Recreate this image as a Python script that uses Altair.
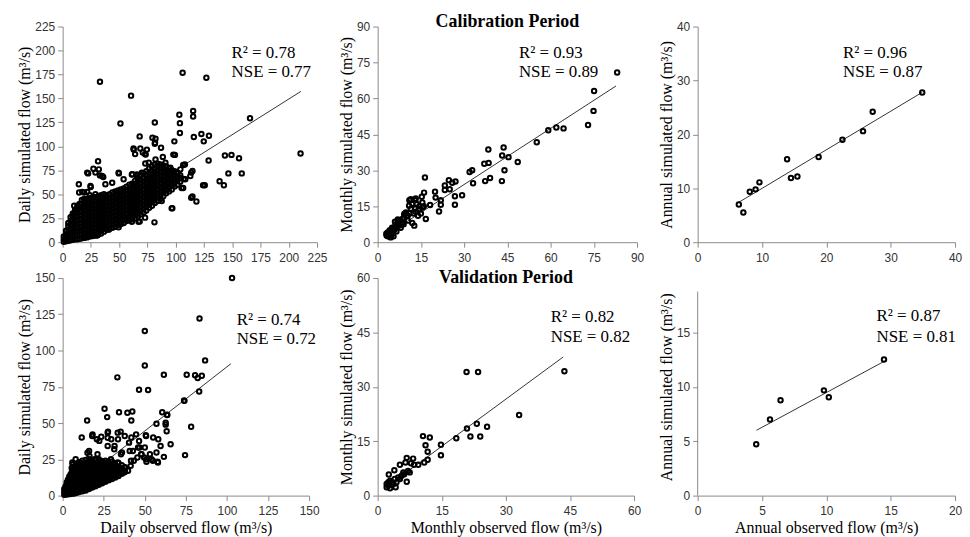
import altair as alt
import pandas as pd

# ---------------- data ----------------
# Daily calibration: dense core (observed x, list of simulated y) + scattered points
dc_core = [
    (1.0, [0.5, 3, 6]),
    (3.0, [1, 4, 8, 12]),
    (5.0, [1.5, 5, 9, 13, 17, 20]),
    (7.0, [2, 6, 10, 14, 18, 22, 26]),
    (9.0, [2.5, 7, 11, 15, 19, 23, 27, 30]),
    (11.0, [3, 7, 11, 15, 19, 23, 27, 31, 34]),
    (13.0, [3, 7, 11, 15, 19, 23, 27, 31, 35, 38]),
    (15.0, [3.5, 8, 12, 16, 20, 24, 28, 32, 36, 40]),
    (17.0, [4, 8, 12, 16, 20, 24, 28, 32, 36, 40, 44]),
    (19.0, [4.5, 9, 13, 17, 21, 25, 29, 33, 37, 41, 45]),
    (21.5, [5, 9, 13, 17, 21, 25, 29, 33, 37, 41, 45]),
    (24.0, [6, 10, 14, 18, 22, 26, 30, 34, 38, 42, 46, 49]),
    (26.5, [6.5, 11, 15, 19, 23, 27, 31, 35, 39, 43, 47]),
    (29.0, [7, 11, 15, 19, 23, 27, 31, 35, 39, 43, 47, 50]),
    (31.5, [8, 12, 16, 20, 24, 28, 32, 36, 40, 44, 48]),
    (34.0, [9, 13, 17, 21, 25, 29, 33, 37, 41, 45, 49]),
    (36.5, [11, 15, 19, 23, 27, 31, 35, 39, 43, 47, 50]),
    (39.0, [13, 17, 21, 25, 29, 33, 37, 41, 45, 49]),
    (41.5, [14, 18, 22, 26, 30, 34, 38, 42, 46, 50]),
    (44.0, [15, 19, 23, 27, 31, 35, 39, 43, 47, 52]),
    (46.5, [16, 20, 24, 28, 32, 36, 40, 44, 48, 53]),
    (49.0, [18, 22, 26, 30, 34, 38, 42, 46, 50, 54]),
    (51.5, [19, 23, 27, 31, 35, 39, 43, 47, 51, 55]),
    (54.0, [20, 24, 28, 32, 36, 40, 44, 48, 52, 56]),
    (56.5, [22, 26, 30, 34, 38, 42, 46, 50, 54, 58]),
    (59.0, [23, 27, 31, 35, 39, 43, 47, 51, 55, 60]),
    (61.5, [24, 28, 32, 36, 40, 44, 48, 52, 56, 61]),
    (64.0, [25, 29, 33, 37, 41, 45, 49, 53, 57, 61, 64]),
    (66.5, [27, 31, 35, 39, 43, 47, 51, 55, 59, 63, 67]),
    (69.0, [29, 33, 37, 41, 45, 49, 53, 57, 61, 65, 70]),
    (71.5, [31, 35, 39, 43, 47, 51, 55, 59, 63, 67, 72]),
    (74.0, [33, 37, 41, 45, 49, 53, 57, 61, 65, 69, 74]),
    (76.5, [36, 40, 44, 48, 52, 56, 60, 64, 68, 72, 77]),
    (79.0, [38, 42, 46, 50, 54, 58, 62, 66, 70, 74, 79]),
    (81.5, [41, 45, 49, 53, 57, 61, 65, 69, 73, 77, 81]),
    (84.0, [43, 47, 51, 55, 59, 63, 67, 71, 75, 79, 82]),
    (86.5, [45, 49, 53, 57, 61, 65, 69, 73, 77, 81]),
    (89.0, [48, 52, 56, 60, 64, 68, 72, 76, 80]),
    (91.5, [51, 55, 59, 63, 67, 71, 75, 79]),
    (94.0, [53, 57, 61, 65, 69, 73, 77]),
    (96.5, [55, 59, 63, 67, 71, 75]),
    (99.0, [58, 62, 66, 70, 74]),
    (101.5, [60, 64, 68, 72]),
    (104.0, [63, 67, 70]),
    (107.0, [66]),
]
dc_scatter = [
    (33.0, 167.4), (60.5, 152.9), (106.1, 176.7), (127.1, 171.5), (51.1, 123.9), (81.5, 124.9),
    (103.2, 132.9), (115.4, 137.0), (115.4, 131.1), (103.7, 124.2), (103.7, 113.9), (116.0, 109.7),
    (122.7, 112.8), (124.8, 105.2), (129.4, 111.1), (68.1, 110.4), (82.1, 108.0), (81.5, 102.8),
    (98.8, 105.2), (129.1, 85.2), (143.5, 90.4), (149.3, 91.1), (156.0, 87.6), (210.4, 92.5),
    (165.7, 129.4), (146.6, 71.8), (158.4, 71.8), (138.8, 63.5), (142.6, 59.4), (125.7, 59.4),
    (114.8, 74.2), (114.8, 47.6), (118.3, 42.4), (97.0, 35.5), (81.2, 20.7), (68.1, 21.7),
    (31.3, 84.5), (27.2, 76.6), (22.5, 71.8), (14.3, 60.4), (33.0, 69.7), (49.7, 71.8),
    (68.7, 97.7), (74.5, 96.6), (62.8, 96.6), (73.4, 91.4), (97.9, 91.4), (88.6, 89.0),
    (108.1, 81.1), (105.2, 56.6), (73.1, 82.1), (61.7, 70.8), (65.8, 69.0), (35.9, 68.0),
    (14.6, 51.8), (19.0, 51.8), (24.8, 57.6), (43.8, 62.1), (10.2, 38.0), (13.7, 35.9), (8.8, 27.6),
    (55.4, 23.5), (61.2, 21.4), (67.1, 21.4), (96.4, 35.3), (30.5, 6.9), (40.7, 13.1), (49.5, 15.5),
    (72.9, 25.6), (87.6, 42.9), (106.6, 56.6), (113.7, 46.3), (124.2, 59.4), (106.6, 80.6),
    (113.7, 72.6), (99.3, 91.1), (17.3, 52.5), (21.7, 52.5), (24.6, 58.7), (21.7, 72.6),
    (32.0, 76.0), (29.0, 72.6), (34.9, 69.1), (49.5, 72.6), (37.8, 60.5), (61.2, 70.7),
    (65.6, 70.7), (70.0, 72.6), (53.9, 65.7), (62.7, 97.7), (79.4, 108.9), (81.7, 103.7),
    (87.0, 98.5), (72.9, 91.9), (64.1, 91.9), (70.9, 93.6), (76.2, 83.0), (82.1, 86.4),
    (90.9, 83.0), (95.3, 77.8), (101.1, 72.6), (104.1, 67.4), (108.5, 65.7), (112.9, 69.1),
    (104.1, 76.0),
]

# Monthly calibration
mc_points = [
    (83.1, 70.8), (75.1, 63.1), (74.9, 54.8), (73.0, 48.9), (64.5, 47.5), (62.0, 47.9), (59.2, 46.7),
    (55.2, 41.7), (48.6, 33.5), (45.4, 35.5), (44.0, 30.0), (43.7, 39.5), (43.2, 36.2), (43.1, 25.5),
    (39.0, 26.8), (38.5, 33.1), (38.4, 38.7), (37.0, 32.7), (37.3, 25.5), (33.1, 24.6), (32.8, 30.0),
    (31.9, 29.3), (29.3, 19.6), (26.8, 19.2), (26.8, 15.6), (27.0, 25.3), (25.9, 24.8), (24.7, 25.9),
    (25.0, 22.1), (23.3, 23.7), (23.3, 21.8), (19.9, 21.1), (21.9, 17.5), (21.9, 15.6), (21.3, 12.8),
    (20.1, 18.6), (18.2, 15.5), (16.7, 9.7), (16.4, 27.0), (16.1, 20.7), (15.3, 19.0), (15.5, 16.6),
    (14.4, 13.8), (13.2, 18.2), (13.2, 12.7), (12.7, 6.9), (11.5, 17.9), (10.9, 15.2), (10.4, 11.0),
    (9.8, 12.4), (9.2, 11.7), (8.6, 9.7), (7.5, 8.3), (6.9, 9.0), (6.3, 7.2), (5.8, 6.2), (5.2, 5.5),
    (4.6, 4.4), (4.0, 3.5), (3.1, 2.8), (4.6, 2.8), (3.5, 4.1), (5.2, 3.5),
    (3.5, 2.5), (4.0, 3.0), (4.5, 3.5), (5.0, 4.0), (5.5, 4.5), (4.2, 5.0), (5.0, 6.0), (6.0, 5.5),
    (6.5, 7.0), (7.0, 8.0), (7.5, 7.0), (8.0, 9.0), (8.5, 8.0), (6.0, 8.5), (7.0, 9.5), (9.0, 10.0),
    (9.5, 12.0), (10.0, 11.0), (11.0, 12.0), (11.5, 14.0), (12.0, 16.0), (12.5, 12.0), (13.0, 14.0),
    (13.5, 16.0), (14.0, 11.0), (14.5, 15.0), (15.0, 12.0), (15.5, 14.5), (10.5, 9.0), (8.0, 6.0),
    (6.5, 4.5), (5.5, 2.5), (4.5, 2.0), (3.0, 3.5), (3.8, 4.2), (9.0, 7.5), (12.0, 8.0), (13.0, 17.5),
    (11.0, 17.5), (16.0, 15.0),
]

# Annual calibration
ac_points = [
    (6.4, 7.0), (7.1, 5.5), (8.1, 9.35), (9.0, 9.8), (9.6, 11.1), (13.9, 15.4), (14.5, 11.9),
    (15.5, 12.2), (18.8, 15.8), (22.5, 19.0), (25.7, 20.6), (27.2, 24.2), (34.9, 27.75),
]

# Daily validation: dense core in two staggered sets + scattered points
dv_core = [
    (1.0, [0.5, 2.5, 4.5]),
    (2.5, [0.8, 3.5, 6.5, 9]),
    (4.0, [1, 4, 7, 10, 13]),
    (5.5, [1.2, 4, 7, 10, 13, 16, 19]),
    (7.0, [1.5, 4.5, 7.5, 10.5, 13.5, 16.5, 19.5]),
    (8.5, [2, 5, 8, 11, 14, 17, 20]),
    (10.0, [2.5, 5.5, 8.5, 11.5, 14.5, 17.5, 20.5, 23]),
    (12.0, [3, 6, 9, 12, 15, 18, 21, 24]),
    (14.0, [3.5, 6.5, 9.5, 12.5, 15.5, 18.5, 21.5, 24.5]),
    (16.0, [4.5, 7.5, 10.5, 13.5, 16.5, 19.5, 22.5, 25]),
    (18.0, [5.5, 8.5, 11.5, 14.5, 17.5, 20.5, 23.5]),
    (20.0, [6.5, 9.5, 12.5, 15.5, 18.5, 21.5, 24.5]),
    (22.0, [7.5, 10.5, 13.5, 16.5, 19.5, 22.5, 25]),
    (24.0, [8.5, 11.5, 14.5, 17.5, 20.5, 23.5]),
    (26.0, [9.5, 12.5, 15.5, 18.5, 21.5, 24]),
    (28.0, [10.5, 13.5, 16.5, 19.5, 22.5]),
    (30.0, [11.5, 14.5, 17.5, 20.5, 23.5]),
    (32.0, [12.5, 15.5, 18.5, 21.5]),
    (34.0, [13.5, 16.5, 19.5, 22.5]),
    (36.0, [15, 18, 21]),
    (38.0, [16.5, 19.5]),
]
dv_core_b = [
    (1.8, [1.5, 4, 6.5]),
    (3.2, [2, 5, 8, 11]),
    (4.8, [2.5, 5.5, 8.5, 11.5, 14.5]),
    (6.2, [3, 6, 9, 12, 15, 18]),
    (7.8, [3, 6, 9, 12, 15, 18, 21]),
    (9.2, [3.5, 6.5, 9.5, 12.5, 15.5, 18.5, 21.5]),
    (11.0, [4, 7, 10, 13, 16, 19, 22]),
    (13.0, [4.5, 7.5, 10.5, 13.5, 16.5, 19.5, 22.5]),
    (15.0, [5, 8, 11, 14, 17, 20, 23]),
    (17.0, [6, 9, 12, 15, 18, 21, 24]),
    (19.0, [7, 10, 13, 16, 19, 22]),
    (21.0, [8, 11, 14, 17, 20, 23]),
    (23.0, [9, 12, 15, 18, 21, 24]),
    (25.0, [10, 13, 16, 19, 22]),
    (27.0, [11, 14, 17, 20, 23]),
    (29.0, [12, 15, 18, 21]),
    (31.0, [13, 16, 19, 22]),
    (33.0, [14, 17, 20]),
    (35.0, [16, 19]),
    (37.0, [17.5]),
]
dv_scatter = [
    (103.1, 150.0), (83.3, 122.1), (50.0, 113.5), (50.0, 89.7), (33.3, 81.5), (86.7, 93.2),
    (75.5, 83.3), (61.6, 83.3), (80.6, 82.9), (82.2, 81.1), (84.7, 82.6), (83.1, 71.7), (52.0, 72.8),
    (74.1, 65.3), (78.2, 47.5), (74.5, 27.9), (25.5, 59.8), (34.3, 57.5), (42.4, 58.0), (39.4, 57.1),
    (41.8, 51.8), (14.9, 51.8), (27.1, 54.1), (60.6, 57.5), (63.5, 55.7), (57.1, 49.5), (62.7, 48.9),
    (63.3, 44.3), (62.7, 50.2), (65.7, 35.4), (50.6, 41.6), (41.8, 40.0), (11.6, 40.0), (18.0, 41.1),
    (23.5, 40.6), (20.8, 38.8), (27.6, 44.1), (35.3, 44.1), (37.8, 41.1), (40.4, 36.5), (55.1, 40.0),
    (58.2, 38.8), (59.6, 34.2), (57.1, 29.7), (61.6, 26.7), (57.8, 23.3), (53.1, 28.5), (46.5, 37.7),
    (45.9, 33.1), (50.0, 33.1), (48.0, 28.5), (51.0, 23.3), (45.5, 26.3), (41.4, 20.5), (39.8, 17.1),
    (37.3, 16.0), (54.1, 25.1), (49.6, 26.3), (43.3, 24.0), (33.7, 38.8), (31.6, 34.2), (29.6, 38.8),
    (36.1, 29.7), (6.1, 21.7), (8.8, 21.7), (16.3, 27.4), (19.4, 25.1), (40.8, 30.8), (46.5, 73.0),
    (73.9, 65.5), (63.7, 55.5), (18.2, 42.2), (22.3, 37.7), (27.4, 43.4), (27.4, 39.9), (33.5, 43.4),
    (44.7, 42.2), (50.8, 41.1), (42.7, 30.8), (46.8, 33.1), (47.8, 28.5), (50.8, 25.1), (54.9, 24.0),
    (58.0, 22.8), (41.6, 24.0), (37.6, 19.4), (16.1, 30.8), (21.2, 28.5), (27.4, 34.2), (31.4, 31.9),
    (35.5, 28.5), (29.4, 25.1), (33.5, 22.8), (7.9, 25.1), (15.1, 29.6), (5.9, 22.8),
]

# Monthly validation
mv_points = [
    (43.7, 34.3), (33.1, 22.2), (20.8, 34.1), (23.5, 34.1), (23.2, 19.8), (25.6, 19.0), (20.9, 18.5),
    (21.7, 16.3), (24.0, 16.3), (18.4, 15.8), (14.8, 14.0), (14.8, 11.1), (10.6, 16.4), (12.2, 16.0),
    (11.2, 13.9), (11.7, 12.1), (11.7, 9.9), (10.9, 9.1), (9.5, 8.5), (8.3, 10.2), (8.5, 8.5),
    (6.8, 10.4), (7.8, 8.9), (6.8, 3.8), (7.5, 6.4), (5.2, 8.5), (6.5, 9.1), (6.0, 6.4), (4.2, 2.3),
    (3.9, 7.0), (2.6, 5.8), (4.8, 5.0), (4.0, 4.6), (3.3, 3.7), (2.5, 2.7), (2.1, 2.3), (2.9, 4.1),
    (5.6, 5.5), (6.2, 5.9), (5.2, 4.6), (3.7, 3.2), (2.5, 3.7), (4.4, 3.7), (2.1, 3.2), (2.9, 2.0),
    (7.1, 6.8),
]

# Annual validation
av_points = [(4.55, 4.72), (5.62, 7.0), (6.44, 8.76), (9.81, 9.67), (10.19, 9.04), (14.48, 12.5)]

# Trend lines (observed end points, simulated end points)
trend_obs = {"dc": [1.0, 210.7], "mc": [3.5, 82.7], "ac": [6.4, 34.9],
             "dv": [1.0, 102.4], "mv": [2.2, 43.4], "av": [4.57, 14.7]}
trend_sim = {"dc": [1.5, 157.3], "mc": [3.4, 65.2], "ac": [7.4, 27.8],
             "dv": [1.2, 90.9], "mv": [2.5, 38.2], "av": [6.0, 12.47]}

# Statistics text and its anchor (data units)
ann_text = {"dc": ["R² = 0.78", "NSE = 0.77"], "mc": ["R² = 0.93", "NSE = 0.89"],
            "ac": ["R² = 0.96", "NSE = 0.87"], "dv": ["R² = 0.74", "NSE = 0.72"],
            "mv": ["R² = 0.82", "NSE = 0.82"], "av": ["R² = 0.87", "NSE = 0.81"]}
ann_x = {"dc": 149.4, "mc": 49.0, "ac": 22.6, "dv": 105.9, "mv": 40.5, "av": 13.9}
ann_y = {"dc": [197.0, 177.3], "mc": [78.8, 71.0], "ac": [35.0, 31.5],
         "dv": [121.2, 108.2], "mv": [49.3, 43.8], "av": [16.5, 14.6]}

ticks = {
    "dc": ([0, 25, 50, 75, 100, 125, 150, 175, 200, 225], [0, 25, 50, 75, 100, 125, 150, 175, 200, 225]),
    "mc": ([0, 15, 30, 45, 60, 75, 90], [0, 15, 30, 45, 60, 75, 90]),
    "ac": ([0, 10, 20, 30, 40], [0, 10, 20, 30, 40]),
    "dv": ([0, 25, 50, 75, 100, 125, 150], [0, 25, 50, 75, 100, 125, 150]),
    "mv": ([0, 15, 30, 45, 60], [0, 15, 30, 45, 60]),
    "av": ([0, 5, 10, 15, 20], [0, 5, 10, 15]),
}
domains = {"dc": (225, 225), "mc": (90, 90), "ac": (40, 40),
           "dv": (150, 150), "mv": (60, 60), "av": (20, 20)}
av_axis_top = 18.75

SERIF = "Liberation Serif"
SANS = "Liberation Sans"
AXIS_GREY = "#8a8a8a"


def flatten(core):
    return [(x, y) for x, ys in core for y in ys]


def panel(key, points, w, h, xtitle, ytitle, title=None, y_axis_top=None):
    pts = pd.DataFrame(points, columns=["obs", "sim"])
    tr = pd.DataFrame({"obs": trend_obs[key], "sim": trend_sim[key]})
    an = pd.DataFrame({"obs": [ann_x[key]] * 2, "sim": ann_y[key], "label": ann_text[key]})
    xv, yv = ticks[key]
    xmax, ymax = domains[key]
    yaxis_kw = dict(values=yv, title=ytitle)
    if y_axis_top is not None:
        yaxis_kw["domain"] = False
    X = alt.X("obs:Q", scale=alt.Scale(domain=[0, xmax], nice=False), axis=alt.Axis(values=xv, title=xtitle))
    Y = alt.Y("sim:Q", scale=alt.Scale(domain=[0, ymax], nice=False), axis=alt.Axis(**yaxis_kw))
    layers = []
    if y_axis_top is not None:
        rd = pd.DataFrame({"obs": [0], "sim": [0], "sim2": [y_axis_top]})
        layers.append(alt.Chart(rd).mark_rule(color=AXIS_GREY, strokeWidth=1).encode(x=X, y=Y, y2="sim2:Q"))
    layers.append(alt.Chart(pts).mark_point(shape="circle", filled=False, color="black",
                                            strokeWidth=2, size=20, opacity=1).encode(x=X, y=Y))
    layers.append(alt.Chart(tr).mark_line(color="black", strokeWidth=0.8).encode(x=X, y=Y))
    layers.append(alt.Chart(an).mark_text(align="left", baseline="middle", font=SERIF, fontSize=17,
                                          color="black").encode(x=X, y=Y, text="label:N"))
    ch = alt.layer(*layers).properties(width=w, height=h)
    if title is not None:
        ch = ch.properties(title=alt.TitleParams(text=title[0], offset=title[1], baseline="alphabetic"))
    return ch


p1 = panel("dc", flatten(dc_core) + dc_scatter, 256, 217, None, "Daily simulated flow (m³/s)")
p2 = panel("mc", mc_points, 261, 217, None, "Monthly simulated flow (m³/s)", title=("Calibration Period", -24))
p3 = panel("ac", ac_points, 259, 217, None, "Annual simulated flow (m³/s)")
p4 = panel("dv", flatten(dv_core) + flatten(dv_core_b) + dv_scatter, 248, 219,
           "Daily observed flow (m³/s)", "Daily simulated flow (m³/s)")
p5 = panel("mv", mv_points, 258, 219, "Monthly observed flow (m³/s)", "Monthly simulated flow (m³/s)",
           title=("Validation Period", -29))
p6 = panel("av", av_points, 259, 219, "Annual observed flow (m³/s)", "Annual simulated flow (m³/s)",
           y_axis_top=av_axis_top)

chart = alt.concat(p1, p2, p3, p4, p5, p6, columns=3, bounds="flush",
                   spacing=alt.RowColnumber(row=36, column=61)).properties(
    padding={"left": 8, "top": 3, "right": 0, "bottom": 0}
).configure_view(strokeWidth=0).configure_axis(
    grid=False,
    domainColor=AXIS_GREY,
    tickColor=AXIS_GREY,
    tickSize=5,
    labelFont=SANS,
    labelFontSize=12,
    labelColor="#333333",
    labelFlush=False,
    titleFont=SERIF,
    titleFontSize=16,
    titleFontWeight="normal",
    titleColor="black",
).configure_axisX(
    labelPadding=5,
    titlePadding=3,
).configure_axisY(
    labelPadding=3,
    titlePadding=2,
).configure_title(
    font=SERIF, fontSize=18, fontWeight="bold", color="black", anchor="middle"
)

chart.save("out.html", embed_options={"renderer": "svg", "actions": False})
